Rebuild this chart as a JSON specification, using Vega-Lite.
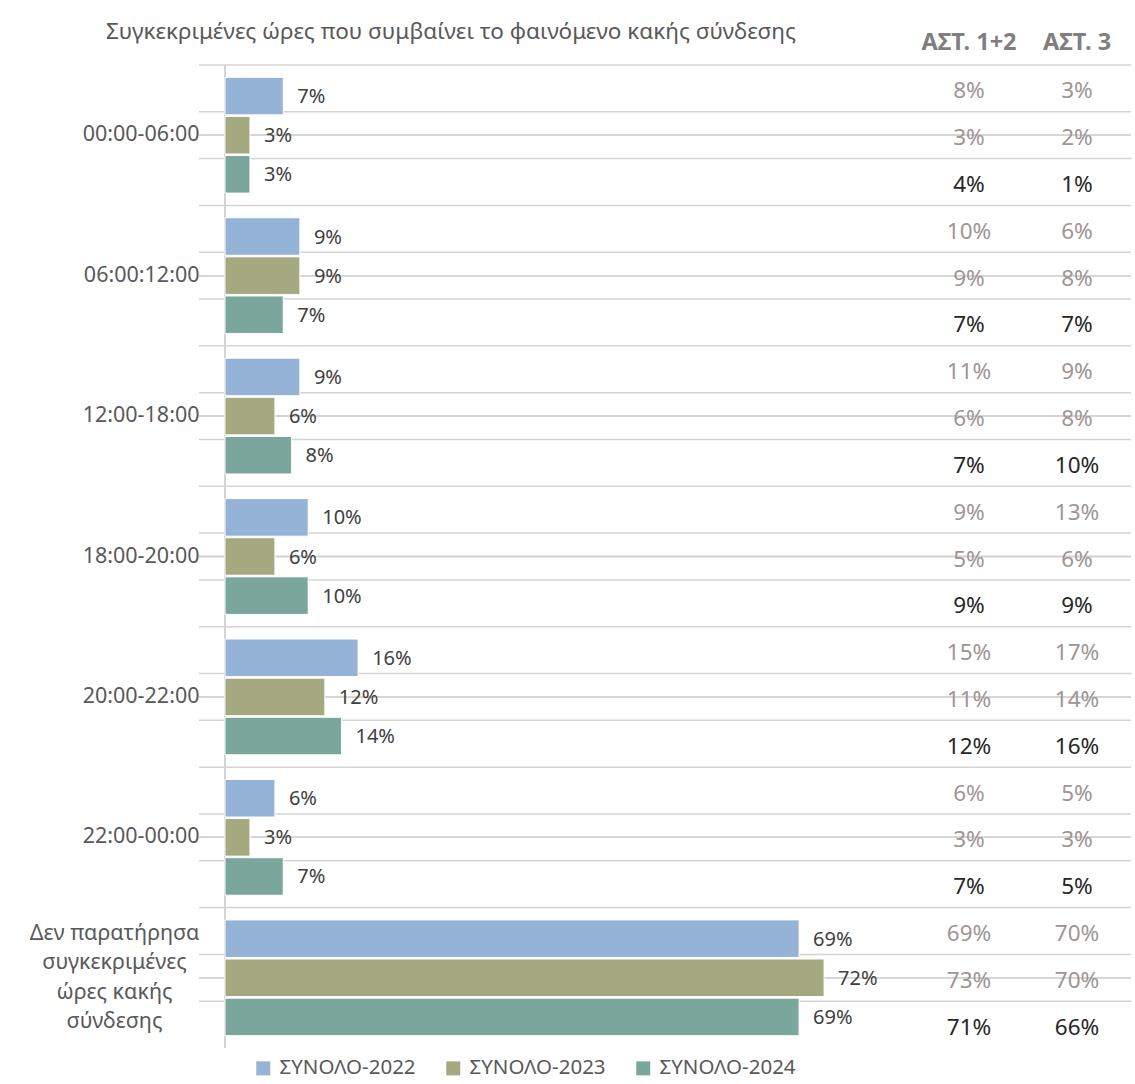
{
  "$schema": "https://vega.github.io/schema/vega-lite/v6.json",
  "background": "white",
  "padding": {"left": 29, "top": 20, "right": 0, "bottom": 0},
  "bounds": "flush",
  "spacing": 0,
  "config": {"font": "Noto Sans", "view": {"stroke": null}},
  "datasets": {
    "rows": [
      {"cat": "00:00-06:00", "series": "ΣΥΝΟΛΟ-2022", "value": 0.07, "ast12": 0.08, "ast3": 0.03},
      {"cat": "00:00-06:00", "series": "ΣΥΝΟΛΟ-2023", "value": 0.03, "ast12": 0.03, "ast3": 0.02},
      {"cat": "00:00-06:00", "series": "ΣΥΝΟΛΟ-2024", "value": 0.03, "ast12": 0.04, "ast3": 0.01},
      {"cat": "06:00:12:00", "series": "ΣΥΝΟΛΟ-2022", "value": 0.09, "ast12": 0.10, "ast3": 0.06},
      {"cat": "06:00:12:00", "series": "ΣΥΝΟΛΟ-2023", "value": 0.09, "ast12": 0.09, "ast3": 0.08},
      {"cat": "06:00:12:00", "series": "ΣΥΝΟΛΟ-2024", "value": 0.07, "ast12": 0.07, "ast3": 0.07},
      {"cat": "12:00-18:00", "series": "ΣΥΝΟΛΟ-2022", "value": 0.09, "ast12": 0.11, "ast3": 0.09},
      {"cat": "12:00-18:00", "series": "ΣΥΝΟΛΟ-2023", "value": 0.06, "ast12": 0.06, "ast3": 0.08},
      {"cat": "12:00-18:00", "series": "ΣΥΝΟΛΟ-2024", "value": 0.08, "ast12": 0.07, "ast3": 0.10},
      {"cat": "18:00-20:00", "series": "ΣΥΝΟΛΟ-2022", "value": 0.10, "ast12": 0.09, "ast3": 0.13},
      {"cat": "18:00-20:00", "series": "ΣΥΝΟΛΟ-2023", "value": 0.06, "ast12": 0.05, "ast3": 0.06},
      {"cat": "18:00-20:00", "series": "ΣΥΝΟΛΟ-2024", "value": 0.10, "ast12": 0.09, "ast3": 0.09},
      {"cat": "20:00-22:00", "series": "ΣΥΝΟΛΟ-2022", "value": 0.16, "ast12": 0.15, "ast3": 0.17},
      {"cat": "20:00-22:00", "series": "ΣΥΝΟΛΟ-2023", "value": 0.12, "ast12": 0.11, "ast3": 0.14},
      {"cat": "20:00-22:00", "series": "ΣΥΝΟΛΟ-2024", "value": 0.14, "ast12": 0.12, "ast3": 0.16},
      {"cat": "22:00-00:00", "series": "ΣΥΝΟΛΟ-2022", "value": 0.06, "ast12": 0.06, "ast3": 0.05},
      {"cat": "22:00-00:00", "series": "ΣΥΝΟΛΟ-2023", "value": 0.03, "ast12": 0.03, "ast3": 0.03},
      {"cat": "22:00-00:00", "series": "ΣΥΝΟΛΟ-2024", "value": 0.07, "ast12": 0.07, "ast3": 0.05},
      {"cat": "Δεν παρατήρησα συγκεκριμένες ώρες κακής σύνδεσης", "series": "ΣΥΝΟΛΟ-2022", "value": 0.69, "ast12": 0.69, "ast3": 0.70},
      {"cat": "Δεν παρατήρησα συγκεκριμένες ώρες κακής σύνδεσης", "series": "ΣΥΝΟΛΟ-2023", "value": 0.72, "ast12": 0.73, "ast3": 0.70},
      {"cat": "Δεν παρατήρησα συγκεκριμένες ώρες κακής σύνδεσης", "series": "ΣΥΝΟΛΟ-2024", "value": 0.69, "ast12": 0.71, "ast3": 0.66}
    ]
  },
  "hconcat": [
    {
      "width": 716,
      "height": 983,
      "data": {"name": "rows"},
      "title": {
        "text": "Συγκεκριμένες ώρες που συμβαίνει το φαινόμενο κακής σύνδεσης",
        "anchor": "start",
        "frame": "group",
        "dx": -93,
        "offset": 21,
        "fontSize": 22.5,
        "fontWeight": "normal",
        "color": "#595959"
      },
      "resolve": {"scale": {"yOffset": "independent"}},
      "layer": [
        {
          "mark": {"type": "rule", "color": "#D4D4D4", "strokeWidth": 1.5},
          "encoding": {
            "y": {"field": "cat", "type": "nominal", "sort": null,
                  "scale": {"paddingInner": 0, "paddingOuter": 0},
                  "axis": {"title": null, "domain": false, "ticks": false,
                           "labelFontSize": 21.5, "labelColor": "#595959", "labelLimit": 300,
                           "labelLineHeight": 29.5,
                           "labelAlign": {"condition": {"test": "indexof(datum.value, 'Δεν') == 0", "value": "center"}, "value": "right"},
                           "labelPadding": {"condition": {"test": "indexof(datum.value, 'Δεν') == 0", "value": 85}, "value": 0},
                           "labelOffset": {"condition": {"test": "indexof(datum.value, 'Δεν') == 0", "value": -44}, "value": 0},
                           "labelExpr": "indexof(datum.value, 'Δεν') == 0 ? ['Δεν παρατήρησα', 'συγκεκριμένες', 'ώρες κακής', 'σύνδεσης'] : datum.label"}},
            "yOffset": {"field": "series", "type": "nominal", "sort": null,
                        "scale": {"type": "point", "padding": 0,
                                  "domain": ["ΣΥΝΟΛΟ-2022", "ΣΥΝΟΛΟ-2023", "ΣΥΝΟΛΟ-2024", "end"]}}
          }
        },
        {
          "mark": {"type": "rule", "color": "#D4D4D4", "strokeWidth": 1.5},
          "encoding": {
            "y": {"field": "cat", "type": "nominal", "sort": null},
            "yOffset": {"datum": "end", "type": "nominal"}
          }
        },
        {
          "mark": {"type": "rule", "color": "#D4D4D4", "strokeWidth": 2},
          "encoding": {"x": {"datum": 0, "type": "quantitative",
                             "scale": {"domain": [-0.03125, 0.8293], "nice": false, "zero": false},
                             "axis": null}}
        },
        {
          "layer": [
            {
              "mark": {"type": "bar", "stroke": "white", "strokeWidth": 1},
              "encoding": {
                "x": {"field": "value", "type": "quantitative"},
                "color": {"field": "series", "type": "nominal", "sort": null,
                          "scale": {"domain": ["ΣΥΝΟΛΟ-2022", "ΣΥΝΟΛΟ-2023", "ΣΥΝΟΛΟ-2024"],
                                    "range": ["#95B3D6", "#A4A97F", "#7BA69B"]},
                          "legend": {"orient": "none", "legendX": 54, "legendY": 993, "direction": "horizontal", "title": null,
                                     "symbolType": "square", "symbolSize": 196, "symbolStrokeWidth": 0,
                                     "labelFontSize": 20.5, "labelColor": "#595959", "labelOffset": 6,
                                     "columnPadding": 27}}
              }
            },
            {
              "mark": {"type": "text", "align": "left", "baseline": "middle", "dx": 14, "dy": 1,
                       "fontSize": 20, "color": "#404040"},
              "encoding": {
                "x": {"field": "value", "type": "quantitative"},
                "text": {"field": "value", "type": "quantitative", "format": ".0%"}
              }
            }
          ],
          "encoding": {
            "y": {"field": "cat", "type": "nominal", "sort": null},
            "yOffset": {"field": "series", "type": "nominal", "sort": null,
                        "scale": {"type": "band", "paddingInner": 0.04, "paddingOuter": 0.315}}
          }
        }
      ]
    },
    {
      "width": 216,
      "height": 983,
      "data": {"name": "rows"},
      "resolve": {"scale": {"yOffset": "independent"}},
      "layer": [
        {
          "mark": {"type": "rule", "color": "#D4D4D4", "strokeWidth": 1.5},
          "encoding": {
            "y": {"field": "cat", "type": "nominal", "sort": null,
                  "scale": {"type": "band", "paddingInner": 0, "paddingOuter": 0}, "axis": null},
            "yOffset": {"field": "series", "type": "nominal", "sort": null,
                        "scale": {"type": "point", "padding": 0,
                                  "domain": ["ΣΥΝΟΛΟ-2022", "ΣΥΝΟΛΟ-2023", "ΣΥΝΟΛΟ-2024", "end"]}}
          }
        },
        {
          "mark": {"type": "rule", "color": "#D4D4D4", "strokeWidth": 1.5},
          "encoding": {
            "y": {"field": "cat", "type": "nominal", "sort": null},
            "yOffset": {"datum": "end", "type": "nominal"}
          }
        },
        {
          "layer": [
            {
              "mark": {"type": "text", "baseline": "middle", "dy": 3, "fontSize": 22.5},
              "encoding": {
                "x": {"datum": "ΑΣΤ. 1+2", "type": "nominal",
                      "scale": {"type": "band", "domain": ["ΑΣΤ. 1+2", "ΑΣΤ. 3"], "paddingInner": 0, "paddingOuter": 0},
                      "axis": {"orient": "top", "title": null, "domain": false, "ticks": false,
                               "labelAngle": 0, "labelFontSize": 23.5, "labelFontWeight": "bold",
                               "labelColor": "#7F7F7F", "labelPadding": 11}},
                "text": {"field": "ast12", "type": "quantitative", "format": ".0%"},
                "color": {"condition": {"test": "datum.series === 'ΣΥΝΟΛΟ-2024'", "value": "#262626"}, "value": "#9E9595"}
              }
            },
            {
              "mark": {"type": "text", "baseline": "middle", "dy": 3, "fontSize": 22.5},
              "encoding": {
                "x": {"datum": "ΑΣΤ. 3", "type": "nominal"},
                "text": {"field": "ast3", "type": "quantitative", "format": ".0%"},
                "color": {"condition": {"test": "datum.series === 'ΣΥΝΟΛΟ-2024'", "value": "#262626"}, "value": "#9E9595"}
              }
            }
          ],
          "encoding": {
            "y": {"field": "cat", "type": "nominal", "sort": null},
            "yOffset": {"field": "series", "type": "nominal", "sort": null,
                        "scale": {"type": "band", "paddingInner": 0, "paddingOuter": 0}}
          }
        }
      ]
    }
  ]
}
